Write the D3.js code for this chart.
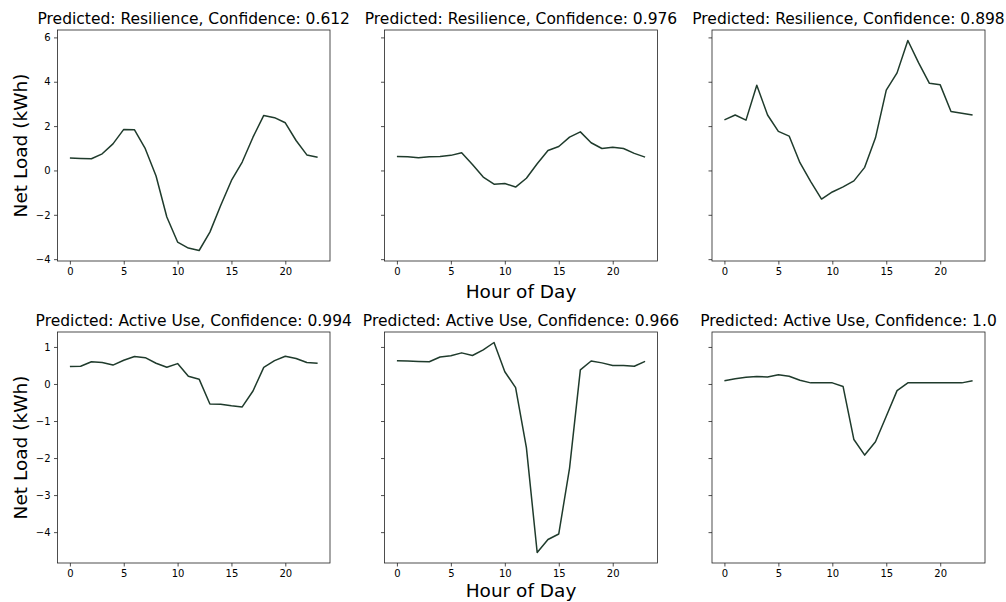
<!DOCTYPE html>
<html><head><meta charset="utf-8">
<script src="https://cdn.jsdelivr.net/npm/d3@7"></script>
<style>body{margin:0;background:#fff;} svg{display:block;} text{font-family:"DejaVu Sans",sans-serif;fill:#000;}</style>
</head><body><svg id="c" width="1006" height="602"></svg>
<script>
const hours = d3.range(24);
const titles = [
  "Predicted: Resilience, Confidence: 0.612",
  "Predicted: Resilience, Confidence: 0.976",
  "Predicted: Resilience, Confidence: 0.898",
  "Predicted: Active Use, Confidence: 0.994",
  "Predicted: Active Use, Confidence: 0.966",
  "Predicted: Active Use, Confidence: 1.0"
];
const s1 = [0.56,0.54,0.53,0.75,1.2,1.85,1.83,0.98,-0.25,-2.1,-3.23,-3.5,-3.61,-2.78,-1.58,-0.45,0.38,1.5,2.48,2.38,2.15,1.35,0.7,0.6];
const s2 = [0.63,0.62,0.57,0.62,0.63,0.68,0.8,0.27,-0.3,-0.62,-0.59,-0.75,-0.35,0.3,0.9,1.08,1.5,1.74,1.25,0.99,1.05,0.99,0.77,0.6];
const s3 = [2.28,2.5,2.27,3.84,2.5,1.76,1.55,0.35,-0.5,-1.29,-0.97,-0.74,-0.47,0.14,1.47,3.62,4.4,5.86,4.85,3.93,3.86,2.66,2.58,2.5];
const s4 = [0.47,0.48,0.6,0.58,0.51,0.64,0.74,0.71,0.56,0.45,0.55,0.21,0.13,-0.54,-0.55,-0.59,-0.62,-0.19,0.45,0.63,0.75,0.69,0.58,0.56];
const s5 = [0.63,0.62,0.61,0.6,0.73,0.76,0.84,0.77,0.92,1.12,0.33,-0.1,-1.72,-4.55,-4.2,-4.05,-2.27,0.38,0.62,0.57,0.5,0.5,0.48,0.61];
const s6 = [0.09,0.14,0.18,0.2,0.19,0.25,0.21,0.1,0.03,0.03,0.03,-0.07,-1.5,-1.92,-1.56,-0.87,-0.18,0.03,0.03,0.03,0.03,0.03,0.03,0.09];
const series = [s1,s2,s3,s4,s5,s6];
const xTicks = [0,5,10,15,20];
const yTicksTop = [-4,-2,0,2,4,6];
const yTicksBot = [-4,-3,-2,-1,0,1];

const svg = d3.select("#c");
const colX = [[57.5,330],[384.5,657.5],[712,985]];
const rowY = [[30,261],[332,563]];
const lineColor = "#1f3b2c";

function margin(arrs){
  const all = arrs.flat();
  const mn = d3.min(all), mx = d3.max(all), m = (mx-mn)*0.05;
  return [mn-m, mx+m];
}
const yDomTop = margin([s1,s2,s3]);
const yDomBot = margin([s4,s5,s6]);

series.forEach((data,i)=>{
  const r = Math.floor(i/3), c = i%3;
  const [x0,x1] = colX[c], [y0,y1] = rowY[r];
  const x = d3.scaleLinear().domain([-1.15,24.15]).range([x0,x1]);
  const y = d3.scaleLinear().domain(r===0?yDomTop:yDomBot).range([y1,y0]);
  const g = svg.append("g");
  g.append("path").datum(data)
    .attr("d", d3.line().x((d,k)=>x(hours[k])).y(d=>y(d)))
    .attr("fill","none").attr("stroke",lineColor).attr("stroke-width",1.5)
    .attr("stroke-linejoin","round");
  const xa = g.append("g").attr("transform",`translate(0,${y1})`)
    .call(d3.axisBottom(x).tickValues(xTicks).tickSize(3.5).tickPadding(3.5).tickFormat(d3.format("d")));
  const ya = g.append("g").attr("transform",`translate(${x0},0)`)
    .call(d3.axisLeft(y).tickValues(r===0?yTicksTop:yTicksBot).tickSize(3.5).tickPadding(3.5)
      .tickFormat(c===0 ? (d=>String(d).replace("-","\u2212")) : ""));
  [xa,ya].forEach(a=>{
    a.select(".domain").remove();
    a.selectAll(".tick line").attr("stroke","#222").attr("stroke-width",0.8);
    a.selectAll(".tick text").attr("font-size",10).attr("fill","#222").style("font-family","DejaVu Sans");
  });
  g.append("rect").attr("x",x0).attr("y",y0).attr("width",x1-x0).attr("height",y1-y0)
    .attr("fill","none").attr("stroke","#222").attr("stroke-width",0.8);
  g.append("text").attr("x",(x0+x1)/2).attr("y",y0-6).attr("text-anchor","middle")
    .attr("font-size",15.5).text(titles[i]);
  if(c===0){
    g.append("text").attr("transform",`translate(27,${(y0+y1)/2}) rotate(-90)`)
      .attr("text-anchor","middle").attr("font-size",18.5).text("Net Load (kWh)");
  }
  if(c===1){
    g.append("text").attr("x",(x0+x1)/2).attr("y",y1+(r===0?37:34)).attr("text-anchor","middle")
      .attr("font-size",18.5).text("Hour of Day");
  }
});
</script></body></html>
